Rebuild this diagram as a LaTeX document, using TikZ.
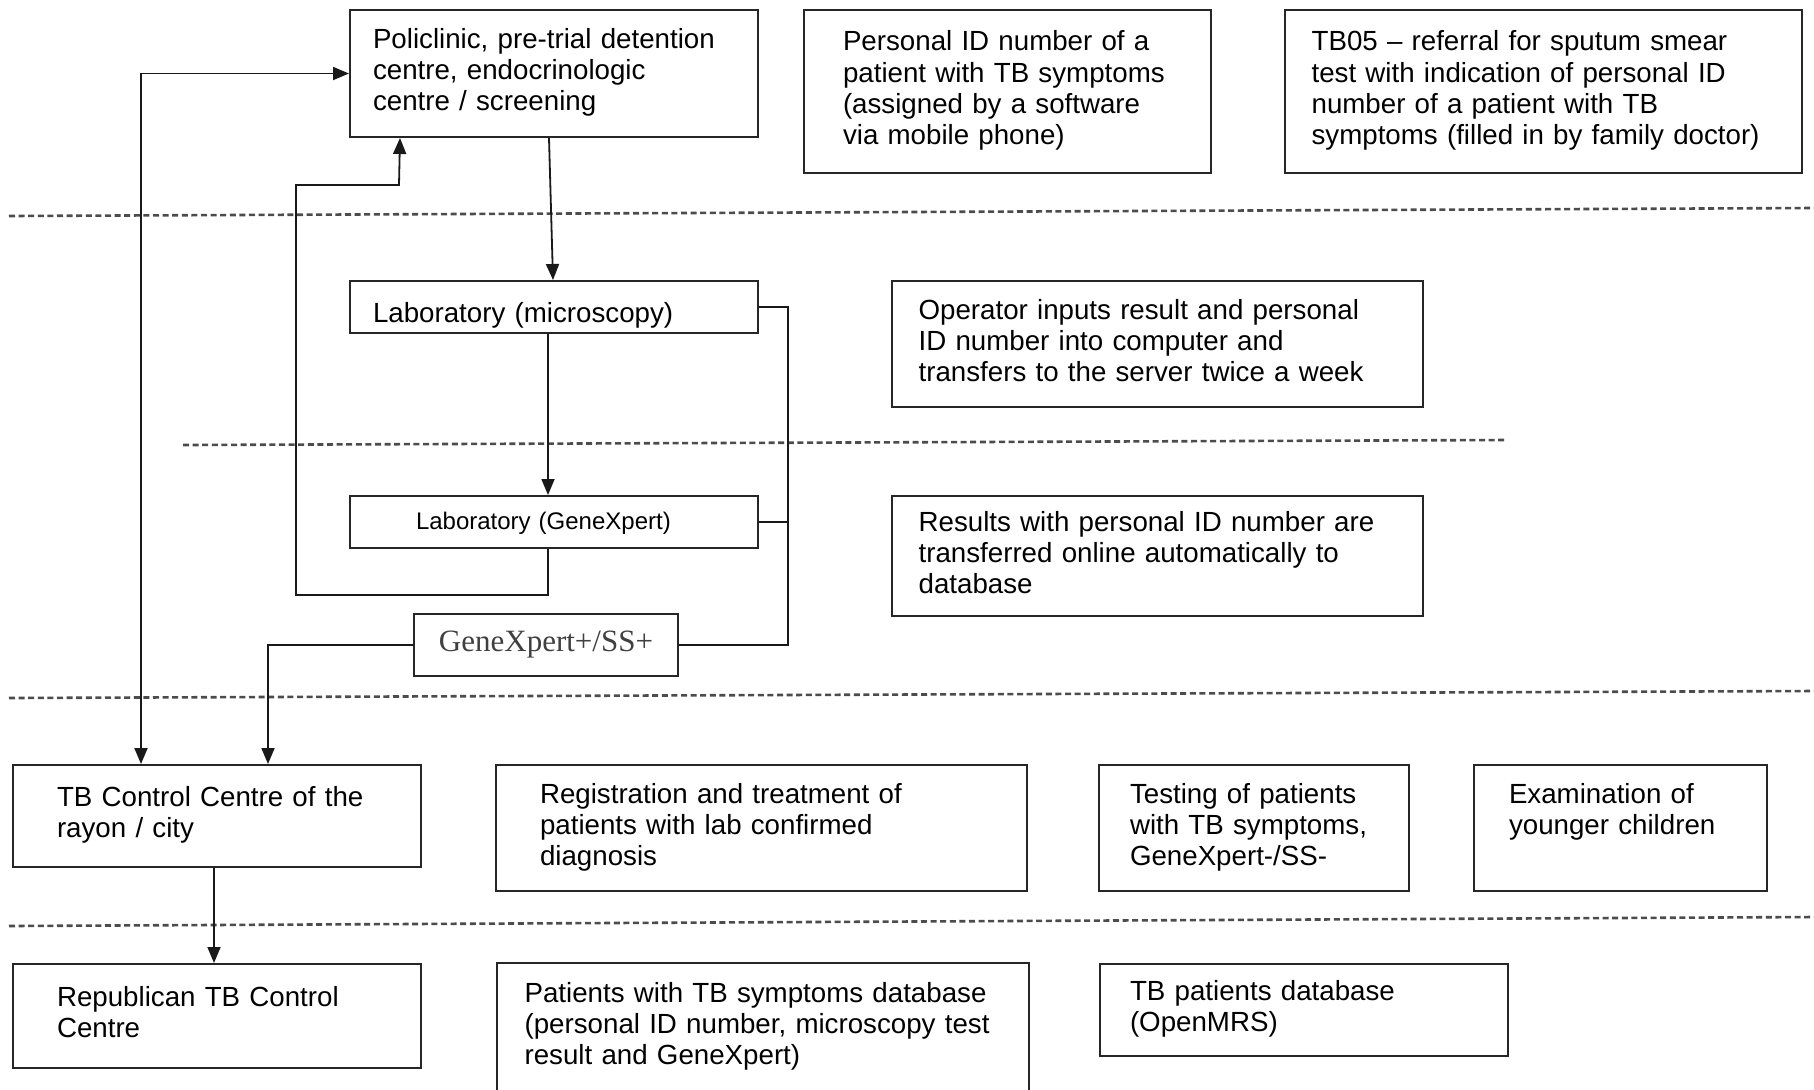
\documentclass[tikz,border=0pt]{standalone}
\usepackage{fontspec}
\setmainfont{Liberation Sans}
\newfontfamily\serifgx{Liberation Serif}
\usetikzlibrary{arrows.meta}
\newcommand{\boxlines}[1]{\begin{tabular}{@{}l@{}}#1\end{tabular}}
\begin{document}
\begin{tikzpicture}[x=0.5pt,y=-0.5pt,
  bx/.style={draw=black!85, line width=1pt, anchor=north west, inner ysep=0pt,
    align=left, font=\fontsize{13.85}{15.6}\selectfont},
  conn/.style={draw=black!90, line width=0.9pt},
  arr/.style={conn, -{Triangle[length=8pt,width=6.5pt]}},
  darr/.style={conn, {Triangle[length=8pt,width=6.5pt]}-{Triangle[length=8pt,width=6.5pt]}},
  dline/.style={draw=black!70, line width=1.3pt, dash pattern=on 3pt off 1.8pt}]
\fill[white] (0,0) rectangle (1814,1089);
\useasboundingbox (0,0) rectangle (1814,1089);

% top row
\node[bx, minimum width=204pt, minimum height=63.5pt, inner xsep=11.5pt, text width=181pt] (poli) at (349,9)
  {\boxlines{Policlinic, pre-trial detention\\centre, endocrinologic\\centre / screening}};
\node[bx, minimum width=203.5pt, minimum height=81.5pt, inner xsep=19.5pt, text width=164.5pt] (pid) at (803,9)
  {\boxlines{Personal ID number of a\\patient with TB symptoms\\(assigned by a software\\via mobile phone)}};
\node[bx, minimum width=258.5pt, minimum height=81.5pt, inner xsep=13.3pt, text width=231.9pt] (tbf) at (1284,9)
  {\boxlines{TB05 – referral for sputum smear\\test with indication of personal ID\\number of a patient with TB\\symptoms (filled in by family doctor)}};

% laboratory rows
\node[bx, minimum width=204pt, minimum height=26pt, inner xsep=11.5pt, text width=181pt] (lab) at (349,280)
  {\boxlines{\raisebox{-4.5pt}[0pt][0pt]{Laboratory (microscopy)}}};
\node[bx, minimum width=265.5pt, minimum height=63pt, inner xsep=13.3pt, text width=238.9pt] (oper) at (891,280)
  {\boxlines{Operator inputs result and personal\\ID number into computer and\\transfers to the server twice a week}};
\node[bx, minimum width=204pt, minimum height=26pt, inner xsep=33pt, text width=138pt, font=\fontsize{12}{14}\selectfont] (labgx) at (349,495)
  {\boxlines{\raisebox{-1pt}[0pt][0pt]{Laboratory (GeneXpert)}}};
\node[bx, minimum width=265.5pt, minimum height=60pt, inner xsep=13.3pt, text width=238.9pt] (res) at (891,495)
  {\boxlines{Results with personal ID number are\\transferred online automatically to\\database}};
\node[bx, minimum width=132pt, minimum height=31pt, inner xsep=0pt, align=center, text=black!75,
  font=\serifgx\fontsize{15.5}{17}\selectfont] (gxp) at (413,613) {GeneXpert+/SS+};

% rayon row
\node[bx, minimum width=204pt, minimum height=51pt, inner xsep=22pt, text width=160pt] (tbc) at (12,764)
  {\boxlines{TB Control Centre of the\\rayon / city}};
\node[bx, minimum width=265.5pt, minimum height=63pt, inner xsep=22pt, text width=221.5pt] (reg) at (495,764)
  {\boxlines{Registration and treatment of\\patients with lab confirmed\\diagnosis}};
\node[bx, minimum width=155pt, minimum height=63pt, inner xsep=15.5pt, text width=124pt] (test) at (1098,764)
  {\boxlines{Testing of patients\\with TB symptoms,\\GeneXpert-/SS-}};
\node[bx, minimum width=146.5pt, minimum height=63pt, inner xsep=17.5pt, text width=111.5pt] (exam) at (1473,764)
  {\boxlines{Examination of\\younger children\\\mbox{}}};

% republic row
\node[bx, minimum width=204pt, minimum height=52pt, inner xsep=22pt, text width=160pt] (rep) at (12,963)
  {\boxlines{Republican TB Control\\Centre}};
\node[bx, draw=none, minimum width=265pt, minimum height=63pt, inner xsep=13.3pt, text width=238.4pt] (pdb) at (497,963)
  {\boxlines{Patients with TB symptoms database\\(personal ID number, microscopy test\\result and GeneXpert)}};
\draw[black!85, line width=1pt] (pdb.south west) -- (pdb.north west) -- (pdb.north east) -- (pdb.south east);
\node[bx, minimum width=204pt, minimum height=46pt, inner xsep=15pt, text width=174pt] (tdb) at (1099,963)
  {\boxlines{TB patients database\\(OpenMRS)}};

% dashed separators
\draw[dline] (9,216) -- (1814,208);
\draw[dline] (183,445) -- (1506,440);
\draw[dline] (9,698) -- (1814,691);
\draw[dline] (9,926) -- (1814,917);

% helper coordinates
\coordinate (rb) at (788,0);
\coordinate (l1) at (296,595);
\coordinate (l2) at (399,185);

% connectors
\draw[arr] ([xshift=-2.5pt]poli.south) -- ([xshift=-0.5pt]lab.north);
\draw[arr] ([xshift=-3pt]lab.south) -- ([xshift=-3pt]labgx.north);
\draw[arr] ([xshift=-3pt]labgx.south) |- (l1) |- (l2) -- ([xshift=-77pt]poli.south);
\draw[conn] (lab.east) -- (lab.east -| rb) |- (gxp.east);
\draw[conn] (labgx.east) -- (labgx.east -| rb);
\draw[arr] (gxp.west) -| ([xshift=25.5pt]tbc.north);
\draw[darr] ([xshift=-38pt]tbc.north) |- (poli.west);
\draw[arr] ([xshift=-1.5pt]tbc.south) -- ([xshift=-1.5pt]rep.north);
\end{tikzpicture}
\end{document}
